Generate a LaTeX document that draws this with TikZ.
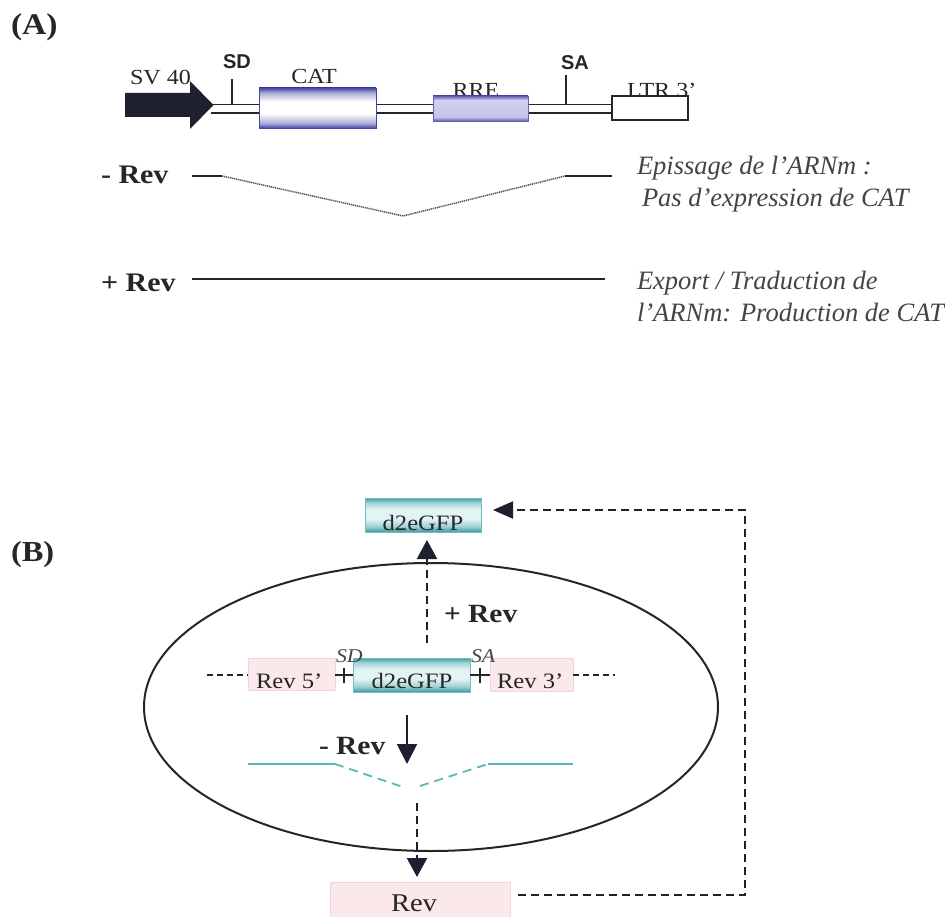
\documentclass[tikz,border=0pt]{standalone}
\usepackage{fontspec}
\setmainfont{Liberation Serif}[FakeStretch=1.12]
\newfontfamily\notefont{Liberation Serif}[Ligatures=TeX]
\newfontfamily\sansb{Liberation Sans}
\usetikzlibrary{arrows.meta,shapes.geometric}
\definecolor{ink}{HTML}{262626}
\definecolor{soft}{HTML}{444444}
\definecolor{navy}{HTML}{1E2030}
\definecolor{catedge}{HTML}{4646A6}
\definecolor{rreedge}{HTML}{5E5EB2}
\definecolor{rrefill}{HTML}{C4C4EA}
\definecolor{tealedge}{HTML}{3A9EA2}
\definecolor{tealmid}{HTML}{E2F4F4}
\definecolor{tealline}{HTML}{55B8BA}
\definecolor{pinkfill}{HTML}{FBE8EA}
\definecolor{pinkedge}{HTML}{F3D6DA}
\pgfdeclareverticalshading{catsh}{100bp}{color(0bp)=(catedge); color(25bp)=(catedge); color(31bp)=(catedge!45!white); color(43bp)=(white); color(58bp)=(white); color(69bp)=(catedge!45!white); color(75bp)=(catedge); color(100bp)=(catedge)}
\pgfdeclareverticalshading{rresh}{100bp}{color(0bp)=(rreedge); color(25bp)=(rreedge); color(33bp)=(rrefill); color(67bp)=(rrefill!80!white); color(75bp)=(rreedge); color(100bp)=(rreedge)}
\pgfdeclareverticalshading{gfpsh}{100bp}{color(0bp)=(tealedge); color(25bp)=(tealedge); color(34bp)=(tealedge!45!white); color(45bp)=(tealmid); color(58bp)=(tealmid); color(68bp)=(tealedge!45!white); color(75bp)=(tealedge); color(100bp)=(tealedge)}
\begin{document}
\begin{tikzpicture}[x=1pt,y=-1pt,
  every node/.style={inner sep=0pt, outer sep=0pt, text=ink},
  lblA/.style={font=\fontsize{21.5}{23}\selectfont},
  lblB/.style={font=\fontsize{22}{24}\selectfont},
  boldlbl/.style={font=\fontsize{26.8}{28}\selectfont\bfseries},
  panel/.style={font=\fontsize{30}{32}\selectfont\bfseries},
  sitelbl/.style={font=\sansb\fontsize{20}{22}\selectfont\bfseries},
  sitelblB/.style={font=\fontsize{19.5}{21}\selectfont\itshape, text=soft},
  note/.style={font=\notefont\fontsize{26.5}{28}\selectfont\itshape, text=soft},
  catbox/.style={draw=catedge, line width=0.8pt, shading=catsh},
  rrebox/.style={draw=rreedge, line width=0.8pt, shading=rresh},
  ltrbox/.style={draw=ink, fill=white, line width=1.2pt},
  gfpbox/.style={draw=tealedge!70!white, line width=0.6pt, shading=gfpsh},
  pinkbox/.style={fill=pinkfill, draw=pinkedge, line width=0.6pt},
  backbone/.style={draw=ink, line width=1.2pt},
  tickline/.style={draw=ink, line width=1.2pt},
  mrna/.style={draw=ink, line width=1.6pt},
  intron/.style={draw=ink!80, line width=1.5pt, dash pattern=on 1.2pt off 0.8pt},
  gdash/.style={draw=ink, line width=1.4pt, dash pattern=on 6pt off 4pt},
  tealsolid/.style={draw=tealline, line width=1.6pt},
  tealdash/.style={draw=tealline, line width=1.8pt, dash pattern=on 9pt off 6pt},
  dasharr/.style={draw=ink, line width=2.2pt, dash pattern=on 8pt off 5pt, -{Triangle[length=19pt,width=20pt]}, color=navy},
  solarr/.style={draw=navy, line width=2pt, -{Triangle[length=20pt,width=20pt]}},
  fbarr/.style={draw=ink, line width=2.2pt, dash pattern=on 8pt off 5pt, -{Triangle[length=20pt,width=17pt]}, color=navy},
  cellline/.style={draw=ink, line width=2pt}
]
\fill[white] (0,0) rectangle (945,917);
\useasboundingbox (0,0) rectangle (945,917);

% ---------------- Panel A ----------------
\node[panel, anchor=base west] (labA) at (11,35) {(A)};

% backbone (double line)
\coordinate (bbL1) at (211,104.3);
\coordinate (bbR1) at (612,104.3);
\coordinate (bbL2) at (211,113);
\coordinate (bbR2) at (612,113);
\draw[backbone] (bbL1) -- (bbR1);
\draw[backbone] (bbL2) -- (bbR2);

% SV40 promoter arrow
\fill[navy] (125,93) -- (190,93) -- (190,81) -- (213.5,105) -- (190,129) -- (190,117) -- (125,117) -- cycle;
\node[lblA, anchor=base west] (sv40) at (130,85) {SV 40};

% labels under boxes (partly covered)
\node[lblA, anchor=base] (rretxt) at (476,98) {RRE};
\node[lblA, anchor=base west] (ltrtxt) at (627,98) {LTR 3’};

% boxes
\node[catbox, minimum width=117pt, minimum height=40pt] (cat) at (317.5,108) {};
\node[rrebox, minimum width=95pt, minimum height=25pt] (rre) at (480.5,108.5) {};
\node[ltrbox, minimum width=76pt, minimum height=24pt] (ltr) at (650,108) {};
\node[lblA, anchor=base] (cattxt) at (314,84) {CAT};

% splice sites
\coordinate (sdT) at (232,79);
\coordinate (sdB) at (232,104.3);
\coordinate (saT) at (566,75);
\coordinate (saB) at (566,104.3);
\draw[tickline] (sdT) -- (sdB);
\draw[tickline] (saT) -- (saB);
\node[sitelbl, anchor=base] (sd) at (237,69) {SD};
\node[sitelbl, anchor=base] (sa) at (575,70) {SA};

% - Rev : spliced mRNA
\node[boldlbl, anchor=base west] (minusA) at (101,184) {- Rev};
\coordinate (m1) at (192,176);
\coordinate (m2) at (222,176);
\coordinate (m3) at (403,216);
\coordinate (m4) at (565,176);
\coordinate (m5) at (612,176);
\draw[mrna] (m1) -- (m2);
\draw[intron] (m2) -- (m3) -- (m4);
\draw[mrna] (m4) -- (m5);
\node[note, anchor=base west] (n1) at (637,175) {Epissage de l’ARNm :};
\node[note, anchor=base west] (n2) at (642,207) {Pas d’expression de CAT};

% + Rev : unspliced mRNA
\node[boldlbl, anchor=base west] (plusA) at (101,292) {+ Rev};
\coordinate (p1) at (192,279);
\coordinate (p2) at (605,279);
\draw[mrna] (p1) -- (p2);
\node[note, anchor=base west] (n3) at (637,290) {Export / Traduction de};
\node[note, anchor=base west] (n4) at (637,322) {l’ARNm: Production de CAT};

% ---------------- Panel B ----------------
\node[panel, font=\fontsize{29}{31}\selectfont\bfseries, anchor=base west] (labB) at (11,561) {(B)};

\node[ellipse, cellline, minimum width=574pt, minimum height=288pt] (cell) at (431,707) {};

% genome line
\node[pinkbox, minimum width=87pt, minimum height=32pt] (rev5) at (291.5,674) {};
\node[gfpbox, minimum width=117pt, minimum height=34pt] (gfpmid) at (411.5,675) {};
\node[pinkbox, minimum width=83pt, minimum height=33pt] (rev3) at (531.5,674.5) {};
\coordinate (gl) at (207,675);
\coordinate (gr) at (615,675);
\draw[gdash] (gl) -- (rev5.west |- gl);
\draw[gdash] (rev3.east |- gr) -- (gr);
\draw[tickline, line width=1.1pt] (rev5.east |- gl) -- (gfpmid.west |- gl);
\draw[tickline, line width=1.1pt] (gfpmid.east |- gl) -- (rev3.west |- gl);
\coordinate (sdbT) at (344,668);
\coordinate (sdbB) at (344,683);
\coordinate (sabT) at (480,668);
\coordinate (sabB) at (480,683);
\draw[tickline, line width=1.1pt] (sdbT) -- (sdbB);
\draw[tickline, line width=1.1pt] (sabT) -- (sabB);
\node[lblB, anchor=base west] (rev5txt) at (256,688) {Rev 5’};
\node[lblB, anchor=base] (gfpmidtxt) at (412,688) {d2eGFP};
\node[lblB, anchor=base west] (rev3txt) at (497,688) {Rev 3’};
\node[sitelblB, anchor=base west] (sdB) at (336,662) {SD};
\node[sitelblB, anchor=base west] (saB) at (471,662) {SA};

% + Rev : export of unspliced mRNA -> d2eGFP
\node[gfpbox, minimum width=116pt, minimum height=34pt] (gfptop) at (423,515) {};
\node[lblB, anchor=base] (gfptoptxt) at (423,530) {d2eGFP};
\coordinate (upS) at (427,643);
\coordinate (upE) at (427,540);
\draw[dasharr] (upS) -- (upE);
\node[boldlbl, font=\fontsize{26.3}{28}\selectfont\bfseries, anchor=base west] (plusB) at (444,622) {+ Rev};

% - Rev : splicing
\node[boldlbl, font=\fontsize{26.3}{28}\selectfont\bfseries, anchor=base west] (minusB) at (319,754) {- Rev};
\coordinate (dnS) at (407,715);
\coordinate (dnE) at (407,764);
\draw[solarr] (dnS) -- (dnE);

% spliced mRNA (teal)
\coordinate (t1) at (248,764);
\coordinate (t2) at (335,764);
\coordinate (t3) at (403,787);
\coordinate (t4) at (420,786);
\coordinate (t5) at (488,764);
\coordinate (t6) at (573,764);
\draw[tealsolid] (t1) -- (t2);
\draw[tealdash] (t2) -- (t3);
\draw[tealdash] (t4) -- (t5);
\draw[tealsolid] (t5) -- (t6);

% Rev protein
\node[pinkbox, minimum width=180pt, minimum height=35pt] (revbot) at (420,899.5) {};
\node[font=\fontsize{25.5}{27}\selectfont, anchor=base] (revbottxt) at (414,911) {Rev};
\coordinate (rdS) at (417,803);
\draw[dasharr] (rdS) -- (revbot.north -| rdS) [shorten >=5pt];

% feedback loop
\coordinate (fbS) at (518,895);
\coordinate (fbC1) at (745,895);
\coordinate (fbC2) at (745,510);
\coordinate (fbE) at (493,510);
\draw[fbarr] (fbS) -- (fbC1) -- (fbC2) -- (fbE);
\end{tikzpicture}
\end{document}
